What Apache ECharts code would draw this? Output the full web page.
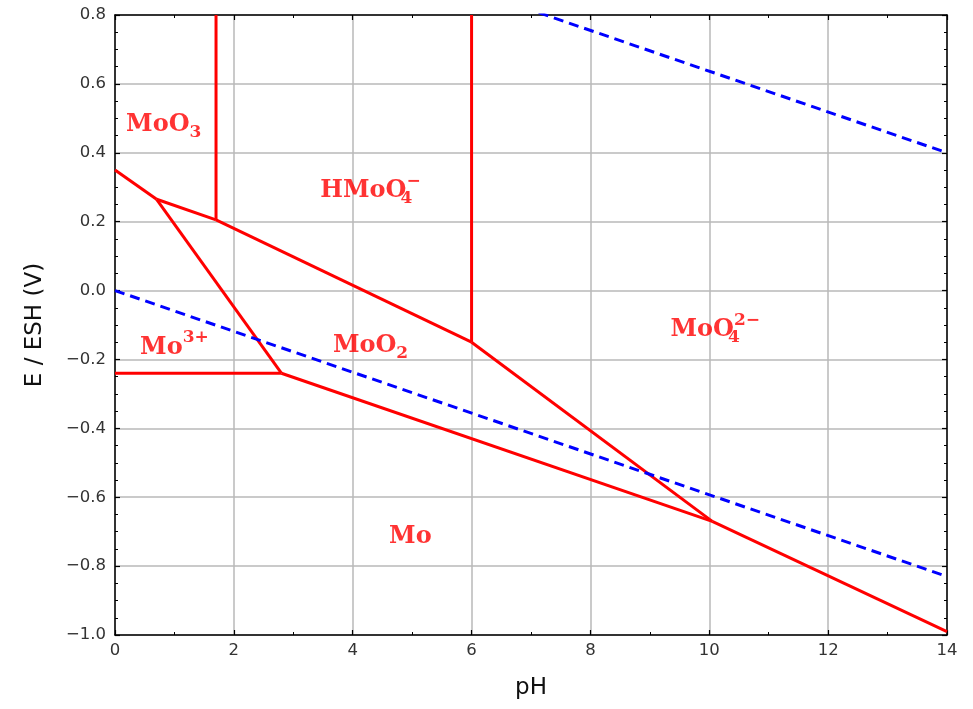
<!DOCTYPE html>
<html>
<head>
<meta charset="utf-8">
<script src="https://cdn.jsdelivr.net/npm/echarts@6/dist/echarts.min.js"></script>
<style>
  html, body { margin: 0; padding: 0; background: #fff; }
  #chart { width: 973px; height: 709px; }
</style>
</head>
<body>
<div id="chart"></div>
<script>
// boundaries of the Pourbaix diagram, [pH, E]
const moo3Mo3 = [[0, 0.35], [0.7, 0.265]]
const moo3Moo2 = [[0.7, 0.265], [1.7, 0.205]]
const hmoo4Moo2 = [[1.7, 0.205], [6, -0.15]]
const moo4Moo2 = [[6, -0.15], [10.05, -0.67]]
const moo3Hmoo4 = [[1.7, 0.205], [1.7, 0.8]]
const hmoo4Moo4 = [[6, -0.15], [6, 0.8]]
const mo3Moo2 = [[0.7, 0.265], [2.8, -0.24]]
const mo3Mo = [[0, -0.24], [2.8, -0.24]]
const moo2Mo = [[2.8, -0.24], [10.05, -0.67]]
const moo4Mo = [[10.05, -0.67], [14, -0.99]]
// water stability lines
const waterH2 = [[0, 0], [14, -0.83]]
const waterO2 = [[0, 1.229], [14, 0.4]]

// species labels: [pH, E, rich text]
const speciesLabels = [
  [0.82, 0.48, '{b|MoO}{sub|3}'],
  [4.3, 0.29, '{b|HMoO}{sub0|4}{sup|\u2212}'],
  [10.1, -0.115, '{b|MoO}{sub0|4}{sup|2\u2212}'],
  [1.0, -0.165, '{b|Mo}{sup|3+}'],
  [4.3, -0.16, '{b|MoO}{sub|2}'],
  [4.97, -0.715, '{b|Mo}']
]

const red = '#ff0000'
const blue = '#0000ff'

function redLine (data) {
  return {
    type: 'line',
    data: data,
    symbol: 'none',
    lineStyle: { color: red, width: 3 },
    z: 3,
    silent: true
  }
}
function blueLine (data) {
  return {
    type: 'line',
    data: data,
    symbol: 'none',
    lineStyle: { color: blue, width: 3, type: [10, 6] },
    z: 4,
    silent: true
  }
}

const labelFont = { fontFamily: 'DejaVu Serif', fontWeight: 'bold', color: red }
const rich = {
  b: Object.assign({ fontSize: 24, lineHeight: 36 }, labelFont),
  sub: Object.assign({ fontSize: 17, verticalAlign: 'bottom', padding: [0, 0, 2, 0] }, labelFont),
  sub0: Object.assign({ fontSize: 17, verticalAlign: 'bottom', padding: [0, 0, 2, 0], width: 0, align: 'left' }, labelFont),
  sup: Object.assign({ fontSize: 17, verticalAlign: 'top' }, labelFont)
}

const tickFont = { color: '#333', fontSize: 16.5, fontFamily: 'DejaVu Sans' }
const minus = v => String(v).replace('-', '\u2212')

const chart = echarts.init(document.getElementById('chart'))
chart.setOption({
  animation: false,
  grid: { left: 115, right: 26, top: 15, bottom: 74 },
  xAxis: [
    {
      type: 'value', min: 0, max: 14, interval: 2,
      name: 'pH', nameLocation: 'middle', nameGap: 42,
      nameTextStyle: { fontSize: 23, color: '#111', fontFamily: 'DejaVu Sans' },
      axisLine: { onZero: false, lineStyle: { color: '#000', width: 1.5 } },
      axisTick: { inside: true, length: 5, lineStyle: { color: '#000', width: 1.2 } },
      minorTick: { show: true, splitNumber: 2, length: 3, lineStyle: { color: '#000', width: 1 } },
      axisLabel: Object.assign({ margin: 7, formatter: v => String(v) }, tickFont),
      splitLine: { show: true, lineStyle: { color: '#b8b8b8', width: 1.5 } }
    },
    {
      type: 'value', min: 0, max: 14, interval: 2, position: 'top',
      axisLine: { onZero: false, lineStyle: { color: '#000', width: 1.5 } },
      axisTick: { inside: true, length: 5, lineStyle: { color: '#000', width: 1.2 } },
      minorTick: { show: true, splitNumber: 2, length: 3, lineStyle: { color: '#000', width: 1 } },
      axisLabel: { show: false },
      splitLine: { show: false }
    }
  ],
  yAxis: [
    {
      type: 'value', min: -1.0, max: 0.8, interval: 0.2,
      name: 'E / ESH (V)', nameLocation: 'middle', nameGap: 68,
      nameTextStyle: { fontSize: 23, color: '#111', fontFamily: 'DejaVu Sans' },
      axisLine: { show: true, onZero: false, lineStyle: { color: '#000', width: 1.5 } },
      axisTick: { show: true, inside: true, length: 5, lineStyle: { color: '#000', width: 1.2 } },
      minorTick: { show: true, splitNumber: 4, length: 3, lineStyle: { color: '#000', width: 1 } },
      axisLabel: Object.assign({ margin: 9, formatter: v => minus(v.toFixed(1)) }, tickFont),
      splitLine: { show: true, lineStyle: { color: '#b8b8b8', width: 1.5 } }
    },
    {
      type: 'value', min: -1.0, max: 0.8, interval: 0.2, position: 'right',
      axisLine: { show: true, onZero: false, lineStyle: { color: '#000', width: 1.5 } },
      axisTick: { show: true, inside: true, length: 5, lineStyle: { color: '#000', width: 1.2 } },
      minorTick: { show: true, splitNumber: 4, length: 3, lineStyle: { color: '#000', width: 1 } },
      axisLabel: { show: false },
      splitLine: { show: false }
    }
  ],
  series: [
    redLine(moo3Mo3),
    redLine(moo3Moo2),
    redLine(hmoo4Moo2),
    redLine(moo4Moo2),
    redLine(moo3Hmoo4),
    redLine(hmoo4Moo4),
    redLine(mo3Moo2),
    redLine(mo3Mo),
    redLine(moo2Mo),
    redLine(moo4Mo),
    blueLine(waterH2),
    blueLine(waterO2),
    {
      type: 'scatter',
      symbolSize: 0,
      silent: true,
      z: 5,
      data: speciesLabels.map(d => ({ value: [d[0], d[1]], label: { formatter: d[2] } })),
      label: {
        show: true,
        position: 'inside',
        rich: rich
      }
    }
  ]
})
</script>
</body>
</html>
